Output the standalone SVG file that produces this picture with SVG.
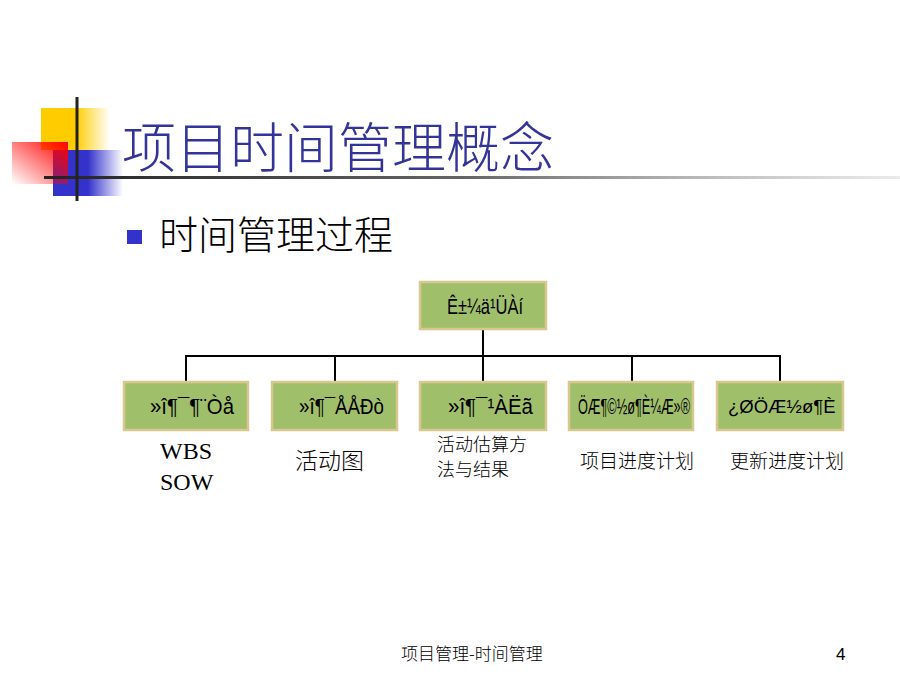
<svg xmlns="http://www.w3.org/2000/svg" width="900" height="675" viewBox="0 0 900 675">
<defs>
<linearGradient id="gY" x1="0" y1="0" x2="1" y2="0">
<stop offset="0" stop-color="#ffcc00"/><stop offset="0.5" stop-color="#ffcc00"/><stop offset="1" stop-color="#ffcc00" stop-opacity="0"/>
</linearGradient>
<linearGradient id="gB" x1="0" y1="0" x2="1" y2="0">
<stop offset="0" stop-color="#3333cc"/><stop offset="0.5" stop-color="#3333cc"/><stop offset="1" stop-color="#3333cc" stop-opacity="0"/>
</linearGradient>
<linearGradient id="gR" x1="1" y1="0" x2="0" y2="1">
<stop offset="0" stop-color="#ff0000"/><stop offset="1" stop-color="#ff0000" stop-opacity="0"/>
</linearGradient>
<linearGradient id="gL" x1="0" y1="0" x2="1" y2="0">
<stop offset="0" stop-color="#222222"/><stop offset="0.5" stop-color="#666666"/><stop offset="1" stop-color="#dddddd" stop-opacity="0.6"/>
</linearGradient>
</defs>
<style>
.box{fill:#a0bf6b;stroke:#d8c88f;stroke-width:2.5}
.bt{font-family:"Liberation Sans",Arial,sans-serif;font-size:22px;fill:#000}
.lbl{font-family:"Noto Sans CJK SC",sans-serif;fill:#000;font-weight:300}
.ser{font-family:"Liberation Serif","Times New Roman",serif;font-size:24px;fill:#000}
.con{stroke:#000;stroke-width:2;fill:none}
</style>
<rect width="900" height="675" fill="#ffffff"/>
<g id="decoration">
<rect x="41" y="108" width="69" height="42" fill="url(#gY)"/>
<rect x="53" y="150" width="70" height="46" fill="url(#gB)"/>
<rect x="12" y="142" width="56" height="42" fill="url(#gR)"/>
<rect x="44" y="176" width="856" height="3" fill="url(#gL)"/>
<rect x="75.5" y="97" width="3" height="104" fill="#222222"/>
</g>
<g id="title">
<text x="122" y="168" font-family="Noto Sans CJK SC,sans-serif" font-size="54" font-weight="300" fill="#333399">项目时间管理概念</text>
</g>
<g id="bullet">
<rect x="127" y="230" width="15" height="14" fill="#3333cc"/>
<text x="159" y="249" font-family="Noto Sans CJK SC,sans-serif" font-size="39" font-weight="300" fill="#000">时间管理过程</text>
</g>
<g id="connectors">
<path class="con" d="M483 329 V356 M185 356 H781 M186 355 V382 M335 355 V382 M483 355 V382 M632 355 V382 M780 355 V382"/>
</g>
<g id="root">
<rect class="box" x="420" y="282" width="126" height="47"/>
<text class="bt" x="447" y="314" textLength="76" lengthAdjust="spacingAndGlyphs">Ê±¼ä¹ÜÀí</text>
</g>
<g id="n1">
<rect class="box" x="124" y="382" width="124" height="48"/>
<text class="bt" x="150" y="414" textLength="84" lengthAdjust="spacingAndGlyphs">»î¶¯¶¨Òå</text>
</g>
<g id="n2">
<rect class="box" x="272" y="382" width="125" height="48"/>
<text class="bt" x="299" y="414" textLength="85" lengthAdjust="spacingAndGlyphs">»î¶¯ÅÅÐò</text>
</g>
<g id="n3">
<rect class="box" x="420" y="382" width="126" height="48"/>
<text class="bt" x="448" y="414" textLength="85" lengthAdjust="spacingAndGlyphs">»î¶¯¹ÀËã</text>
</g>
<g id="n4">
<rect class="box" x="569" y="382" width="124" height="48"/>
<text class="bt" x="578" y="414" textLength="112" lengthAdjust="spacingAndGlyphs">ÖÆ¶©½ø¶È¼Æ»®</text>
</g>
<g id="n5">
<rect class="box" x="717" y="382" width="126" height="48"/>
<text class="bt" x="728" y="413" style="font-size:18.5px">¿ØÖÆ½ø¶È</text>
</g>
<g id="labels">
<text class="ser" x="160" y="459">WBS</text>
<text class="ser" x="160" y="490">SOW</text>
<text class="lbl" x="295" y="469" font-size="23">活动图</text>
<text class="lbl" x="437" y="451" font-size="18">活动估算方</text>
<text class="lbl" x="437" y="476" font-size="18">法与结果</text>
<text class="lbl" x="580" y="468" font-size="19">项目进度计划</text>
<text class="lbl" x="730" y="468" font-size="19">更新进度计划</text>
</g>
<g id="footer">
<text x="401" y="660" font-family="Noto Sans CJK SC,sans-serif" font-size="17" font-weight="300" fill="#000">项目管理-时间管理</text>
<text x="836" y="660" font-family="Liberation Sans,Arial,sans-serif" font-size="17" fill="#000">4</text>
</g>
</svg>
